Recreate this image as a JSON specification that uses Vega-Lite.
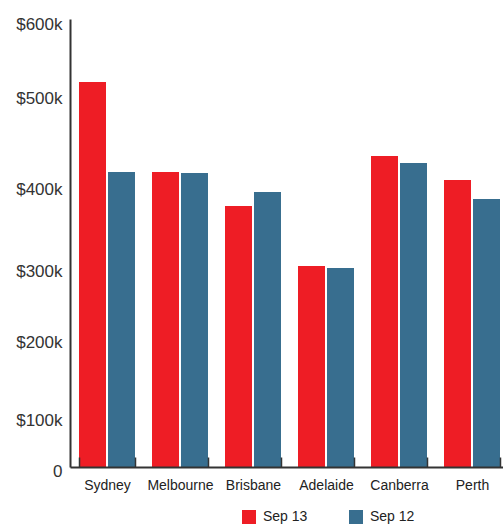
{
  "$schema": "https://vega.github.io/schema/vega-lite/v6.json",
  "width": 433,
  "height": 448,
  "autosize": "none",
  "padding": {"left": 70, "top": 19, "right": 0, "bottom": 58},
  "background": "white",
  "data": {
    "values": [
      {"city": "Sydney", "period": "Sep 13", "price": 515600},
      {"city": "Sydney", "period": "Sep 12", "price": 395000},
      {"city": "Melbourne", "period": "Sep 13", "price": 395000},
      {"city": "Melbourne", "period": "Sep 12", "price": 393700},
      {"city": "Brisbane", "period": "Sep 13", "price": 349500},
      {"city": "Brisbane", "period": "Sep 12", "price": 368300},
      {"city": "Adelaide", "period": "Sep 13", "price": 269200},
      {"city": "Adelaide", "period": "Sep 12", "price": 266500},
      {"city": "Canberra", "period": "Sep 13", "price": 416500},
      {"city": "Canberra", "period": "Sep 12", "price": 407000},
      {"city": "Perth", "period": "Sep 13", "price": 384400},
      {"city": "Perth", "period": "Sep 12", "price": 358900}
    ]
  },
  "mark": {"type": "bar"},
  "encoding": {
    "x": {
      "field": "city",
      "type": "nominal",
      "sort": ["Sydney", "Melbourne", "Brisbane", "Adelaide", "Canberra", "Perth"],
      "scale": {"range": [0, 439], "paddingInner": 0.233, "paddingOuter": 0.1233},
      "axis": {
        "title": null,
        "labelAngle": 0,
        "labelFont": "Liberation Sans",
        "labelFontSize": 14,
        "labelColor": "#222222",
        "labelPadding": 21,
        "domainColor": "#333333",
        "domainWidth": 2,
        "tickColor": "#333333",
        "tickWidth": 1.5,
        "tickSize": -10,
        "tickBand": "extent",
        "tickOffset": -8.5,
        "zindex": 1
      }
    },
    "xOffset": {
      "field": "period",
      "type": "nominal",
      "sort": ["Sep 13", "Sep 12"],
      "scale": {"paddingInner": 0.069, "paddingOuter": 0}
    },
    "y": {
      "field": "price",
      "type": "quantitative",
      "scale": {"domain": [0, 600000], "nice": false, "zero": true},
      "axis": {
        "title": null,
        "grid": false,
        "ticks": false,
        "values": [0, 62900, 166100, 261200, 372300, 492900, 593300],
        "labelExpr": "datum.value > 550000 ? '$600k' : datum.value > 450000 ? '$500k' : datum.value > 320000 ? '$400k' : datum.value > 220000 ? '$300k' : datum.value > 120000 ? '$200k' : datum.value > 20000 ? '$100k' : '0'",
        "labelOffset": {"condition": {"test": "datum.value == 0", "value": 4}, "value": 0},
        "labelFont": "Liberation Sans",
        "labelFontSize": 17,
        "labelColor": "#333333",
        "labelPadding": 8,
        "domainColor": "#333333",
        "domainWidth": 2,
        "zindex": 1
      }
    },
    "color": {
      "field": "period",
      "type": "nominal",
      "scale": {"domain": ["Sep 13", "Sep 12"], "range": ["#EE1D25", "#386E8F"]},
      "legend": {
        "title": null,
        "orient": "none",
        "direction": "horizontal",
        "legendX": 172,
        "legendY": 491,
        "symbolType": "square",
        "symbolSize": 196,
        "symbolStrokeWidth": 0,
        "symbolOpacity": 1,
        "labelFont": "Liberation Sans",
        "labelFontSize": 14,
        "labelColor": "#222222",
        "labelOffset": 7,
        "columnPadding": 41,
        "padding": 0
      }
    }
  },
  "config": {"view": {"stroke": null}}
}
